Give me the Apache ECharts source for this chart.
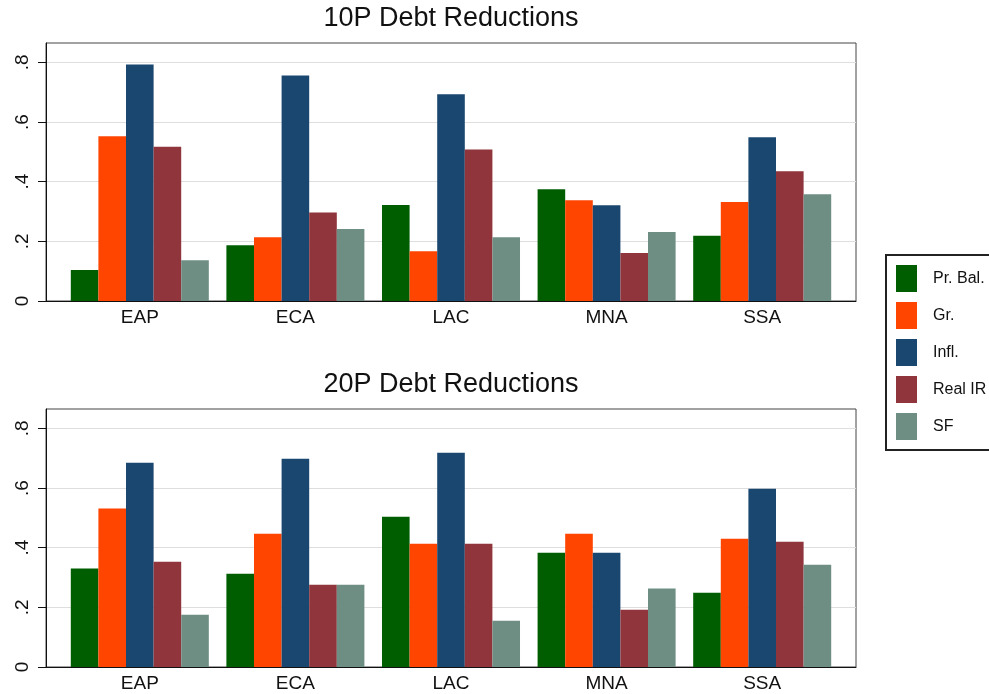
<!DOCTYPE html>
<html>
<head>
<meta charset="utf-8">
<script src="https://cdn.jsdelivr.net/npm/echarts@6/dist/echarts.min.js"></script>
<style>
html,body{margin:0;padding:0;background:#fff;}
#chart{width:989px;height:694px;}
</style>
</head>
<body>
<div id="chart"></div>
<script>
// ---- data ----
const categories = ['EAP', 'ECA', 'LAC', 'MNA', 'SSA'];
const seriesNames = ['Pr. Bal.', 'Gr.', 'Infl.', 'Real IR', 'SF'];
const panelTitles = ['10P Debt Reductions', '20P Debt Reductions'];
const tickValues = [0, 0.2, 0.4, 0.6, 0.8];
const tickLabels = ['0', '.2', '.4', '.6', '.8'];

// 10P panel
const p10_prBal  = [0.104, 0.187, 0.322, 0.375, 0.219];
const p10_gr     = [0.552, 0.214, 0.167, 0.338, 0.332];
const p10_infl   = [0.793, 0.756, 0.693, 0.321, 0.549];
const p10_realIR = [0.517, 0.297, 0.508, 0.161, 0.435];
const p10_sf     = [0.137, 0.241, 0.214, 0.231, 0.358];

// 20P panel
const p20_prBal  = [0.330, 0.313, 0.504, 0.383, 0.249];
const p20_gr     = [0.531, 0.447, 0.413, 0.447, 0.430];
const p20_infl   = [0.685, 0.698, 0.718, 0.383, 0.598];
const p20_realIR = [0.353, 0.276, 0.413, 0.192, 0.420];
const p20_sf     = [0.175, 0.276, 0.155, 0.263, 0.343];

const colors = ['#005e00', '#ff4500', '#1a476f', '#90353b', '#6e8e84'];

// ---- layout ----
const FONT = "'Liberation Sans', Arial, Helvetica, sans-serif";
const yMax = 0.865;
const panels = [
  { top: 43, data: [p10_prBal, p10_gr, p10_infl, p10_realIR, p10_sf], titleTop: 5 },
  { top: 409, data: [p20_prBal, p20_gr, p20_infl, p20_realIR, p20_sf], titleTop: 371 }
];
const plotH = 258;

const grids = [], xAxes = [], yAxes = [], series = [], titles = [];
panels.forEach((p, pi) => {
  const frameIdx = grids.length;
  grids.push({ left: 46, top: p.top, width: 810, height: plotH, show: true,
               borderColor: '#444', borderWidth: 1, containLabel: false });
  const barIdx = grids.length;
  grids.push({ left: 62, top: p.top, width: 778, height: plotH, show: false });

  xAxes.push({ gridIndex: frameIdx, type: 'value', min: 0, max: 1,
    axisLine: { show: true, onZero: false, lineStyle: { color: '#111', width: 1 } },
    axisTick: { show: false }, axisLabel: { show: false }, splitLine: { show: false } });
  xAxes.push({ gridIndex: barIdx, type: 'category', data: categories,
    axisLine: { show: false }, axisTick: { show: false },
    axisLabel: { show: true, fontSize: 19, fontFamily: FONT, color: '#111', margin: 7 },
    splitLine: { show: false } });

  yAxes.push({ gridIndex: frameIdx, type: 'value', min: 0, max: yMax, interval: 0.2,
    axisLine: { show: true, lineStyle: { color: '#111', width: 1 } },
    axisTick: { show: true, length: 8, lineStyle: { color: '#111' }, customValues: tickValues },
    axisLabel: { show: true, rotate: 90, fontSize: 19, fontFamily: FONT, color: '#111', margin: 14,
      customValues: tickValues,
      formatter: v => { const i = tickValues.findIndex(t => Math.abs(t - v) < 1e-6); return i >= 0 ? tickLabels[i] : ''; } },
    splitLine: { show: true, lineStyle: { color: '#dedede', width: 1 } } });
  yAxes.push({ gridIndex: barIdx, type: 'value', min: 0, max: yMax, show: false });

  p.data.forEach((vals, si) => {
    series.push({ type: 'bar', name: seriesNames[si], xAxisIndex: barIdx, yAxisIndex: barIdx,
      data: vals, barGap: '0%', barCategoryGap: '11.3%',
      itemStyle: { color: colors[si] }, z: 3 });
  });

  titles.push({ text: panelTitles[pi], left: 451, top: p.titleTop, textAlign: 'center', padding: 0,
    textStyle: { fontSize: 27, fontWeight: 'normal', fontFamily: FONT, color: '#111' } });
});

const chart = echarts.init(document.getElementById('chart'), null, { renderer: 'canvas' });
chart.setOption({
  animation: false,
  backgroundColor: '#fff',
  title: titles,
  grid: grids,
  xAxis: xAxes,
  yAxis: yAxes,
  legend: {
    data: seriesNames, orient: 'vertical', left: 886, top: 255,
    itemWidth: 21, itemHeight: 27, itemGap: 10, icon: 'rect',
    borderColor: '#222', borderWidth: 2, padding: [10, 40, 10, 10],
    selectedMode: false,
    textStyle: { fontSize: 16, fontFamily: FONT, color: '#111', padding: [0, 0, 7, 11] }
  },
  series: series
});
</script>
</body>
</html>
